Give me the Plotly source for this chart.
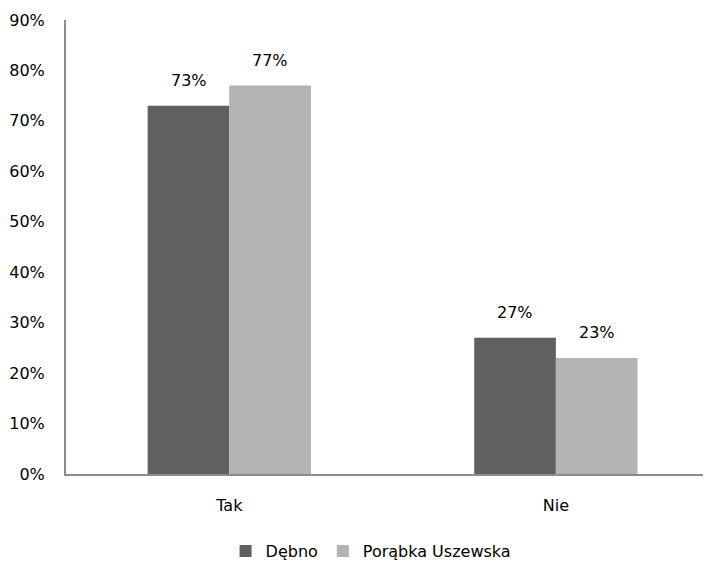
import plotly.graph_objects as go

categories = ["Tak", "Nie"]
debno = [73, 27]
porabka = [77, 23]
series_names = ["Dębno", "Porąbka Uszewska"]
y_ticks = [0, 10, 20, 30, 40, 50, 60, 70, 80, 90]
y_tick_labels = [f"{v}%" for v in y_ticks]

dark = "#606062"
light = "#b3b3b6"
font_family = "'DejaVu Sans', sans-serif"

fig = go.Figure()
fig.add_trace(go.Bar(x=categories, y=debno, name=series_names[0],
                     marker=dict(color=dark, line=dict(width=0))))
fig.add_trace(go.Bar(x=categories, y=porabka, name=series_names[1],
                     marker=dict(color=light, line=dict(width=0))))

annotations = []
for vals, xs in ((debno, -40.75), (porabka, 40.75)):
    for c, v in zip(categories, vals):
        annotations.append(dict(x=c, y=v, text=f"{v}%", showarrow=False,
                                xshift=xs, yshift=25, yanchor="middle",
                                font=dict(size=16, color="#000000", family=font_family)))

fig.update_layout(
    width=703, height=553,
    margin=dict(l=58, r=0, t=12, b=87),
    paper_bgcolor="white", plot_bgcolor="white",
    barmode="group", bargap=0.5, bargroupgap=0,
    font=dict(family=font_family, size=16, color="#000000"),
    showlegend=True,
    legend=dict(orientation="h", x=0.473, xanchor="center",
                yref="container", y=0.018, yanchor="middle",
                font=dict(size=16), itemwidth=30, traceorder="normal"),
    annotations=annotations,
    xaxis=dict(range=[-0.5, 1.475], showline=True, linecolor="#8c8c8f", linewidth=2,
               showgrid=False, ticks="", ticklabelstandoff=16, zeroline=False,
               automargin=False),
    yaxis=dict(range=[0, 90], tickvals=y_ticks, ticktext=y_tick_labels,
               showline=True, linecolor="#8c8c8f", linewidth=2,
               showgrid=False, zeroline=False, ticks="", ticklabelstandoff=16,
               automargin=False),
)

fig.write_html("out.html")
